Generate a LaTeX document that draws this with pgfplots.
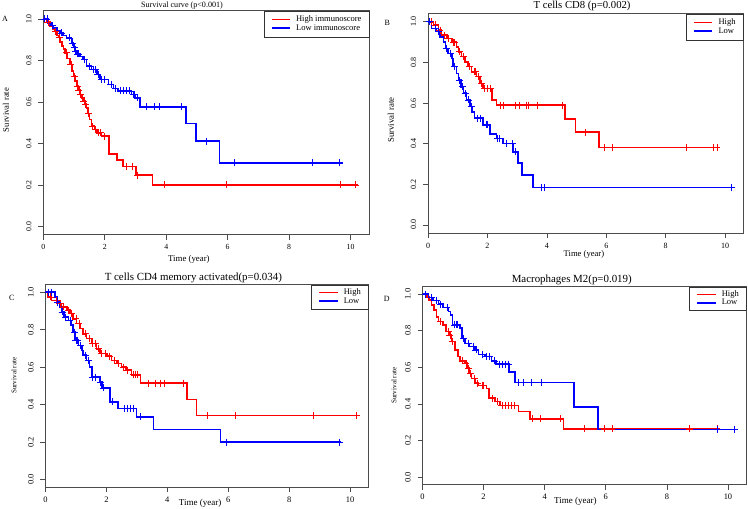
\documentclass[border=0pt]{standalone}
\usepackage{pgfplots}
\pgfplotsset{compat=1.18}
\usepackage{fontspec}
\setmainfont{Liberation Serif}
\definecolor{kmred}{RGB}{255,0,0}
\definecolor{kmblue}{RGB}{0,0,255}
\pgfplotsset{legend image code/.code={\draw[#1] (0pt,0pt) -- (18.5pt,0pt);}}
\pgfplotsset{
  kmaxis/.style={
    scale only axis, xmin=0, xmax=10.6, ymin=-0.04, ymax=1.04,
    axis line style={black!70, line width=0.6pt},
    every tick/.style={black!70, line width=0.6pt},
    tick align=outside, major tick length=5pt, tick pos=left,
    xtick={0,2,4,6,8,10}, ytick={0,0.2,0.4,0.6,0.8,1},
    /pgf/number format/assume math mode=true,
    yticklabel style={rotate=90, anchor=south, inner sep=0pt,
      /pgf/number format/fixed, /pgf/number format/fixed zerofill, /pgf/number format/precision=1},
    xticklabel style={anchor=north, inner sep=0pt},
    xticklabel shift=4.5pt, yticklabel shift=6.5pt,
    legend cell align=left,
    legend style={at={(1,1)}, anchor=north east, draw=black!80, fill=white,
      font=\fontsize{8.5}{8.5}\selectfont, inner xsep=7pt, inner ysep=4.5pt,
      nodes={inner sep=0.3pt, text height=5.9pt, text depth=2.1pt}, column sep=5pt, row sep=0pt},
  },
}
\begin{document}
\begin{tikzpicture}
\useasboundingbox (0pt,0pt) rectangle (748pt,509pt);
% ---------------- Panel A ----------------
\begin{axis}[kmaxis, at={(43.3pt,274.2pt)}, anchor=south west, width=325.7pt, height=224.1pt,
  xticklabel style={font=\fontsize{7.8}{8}\selectfont},
  yticklabel style={font=\fontsize{7.8}{8}\selectfont},
  title={Survival curve (p<0.001)},
  every axis title/.style={at={(0.426,1)}, anchor=base, yshift=3.2pt, font=\fontsize{8.1}{9}\selectfont},
  xlabel={Time (year)},
  every axis x label/.style={at={(0.447,0)}, anchor=base, yshift=-26.7pt, font=\fontsize{8.8}{9}\selectfont},
  ylabel={Survival rate},
  every axis y label/.style={at={(-0.1145,0.557)}, anchor=center, rotate=90, font=\fontsize{8.6}{9}\selectfont},
]
\addlegendimage{kmred, line width=1.6pt}
\addlegendentry{High immunoscore}
\addlegendimage{kmblue, line width=1.6pt}
\addlegendentry{Low immunoscore}
\addplot[forget plot, kmred, line width=1.6pt, const plot, mark=none] coordinates {(0,1.0) (0.1,0.985) (0.22,0.965) (0.3,0.95) (0.38,0.94) (0.45,0.92) (0.49,0.91) (0.55,0.89) (0.60,0.87) (0.66,0.855) (0.71,0.837) (0.78,0.81) (0.87,0.78) (0.93,0.75) (0.98,0.725) (1.04,0.70) (1.09,0.677) (1.14,0.657) (1.19,0.637) (1.25,0.62) (1.30,0.605) (1.36,0.59) (1.41,0.572) (1.46,0.545) (1.50,0.516) (1.57,0.484) (1.66,0.468) (1.74,0.452) (1.90,0.436) (2.14,0.348) (2.39,0.32) (2.60,0.29) (3.02,0.248) (3.55,0.20) (10.25,0.20)};
\addplot[forget plot, kmblue, line width=1.6pt, const plot, mark=none] coordinates {(0,1.0) (0.16,0.98) (0.25,0.968) (0.33,0.957) (0.45,0.945) (0.54,0.933) (0.65,0.921) (0.76,0.909) (0.92,0.885) (0.98,0.865) (1.03,0.845) (1.10,0.832) (1.19,0.82) (1.30,0.805) (1.41,0.773) (1.57,0.757) (1.74,0.733) (1.85,0.709) (2.12,0.685) (2.28,0.665) (2.44,0.653) (2.87,0.637) (2.98,0.62) (3.15,0.577) (4.65,0.497) (4.97,0.412) (5.74,0.307) (9.76,0.307)};
\addplot[forget plot, kmred, only marks, mark=+, mark size=3.5pt, mark options={kmred, line width=0.7pt}] coordinates {(0.15,0.985) (0.40,0.94) (0.52,0.91) (0.75,0.837) (0.90,0.78) (1.0,0.725) (1.1,0.677) (1.16,0.657) (1.22,0.637) (1.32,0.605) (1.38,0.59) (1.48,0.545) (1.6,0.484) (1.7,0.468) (1.8,0.452) (1.85,0.452) (2.0,0.436) (2.7,0.29) (2.9,0.29) (3.05,0.248) (3.94,0.2) (5.97,0.2) (9.67,0.2) (10.17,0.2)};
\addplot[forget plot, kmblue, only marks, mark=+, mark size=3.5pt, mark options={kmblue, line width=0.7pt}] coordinates {(0.05,1.0) (0.12,1.0) (0.3,0.968) (0.6,0.933) (0.85,0.909) (0.95,0.885) (1.0,0.865) (1.05,0.845) (1.12,0.832) (1.15,0.832) (1.35,0.805) (1.5,0.773) (1.62,0.757) (1.7,0.757) (1.78,0.733) (1.9,0.709) (2.0,0.709) (2.2,0.685) (2.35,0.665) (2.5,0.653) (2.6,0.653) (2.7,0.653) (2.8,0.653) (2.92,0.637) (2.95,0.637) (3.05,0.62) (3.36,0.577) (3.63,0.577) (3.77,0.577) (4.50,0.577) (5.31,0.412) (6.21,0.307) (8.76,0.307) (9.63,0.307)};
\end{axis}
% ---------------- Panel B ----------------
\begin{axis}[kmaxis, at={(428pt,275.9pt)}, anchor=south west, width=315pt, height=219.5pt,
  xticklabel style={font=\fontsize{8}{8}\selectfont},
  yticklabel style={font=\fontsize{8}{8}\selectfont},
  title={T cells CD8 (p=0.002)},
  every axis title/.style={at={(0.489,1)}, anchor=base, yshift=4.6pt, font=\fontsize{10.7}{11}\selectfont},
  xlabel={Time (year)},
  every axis x label/.style={at={(0.495,0)}, anchor=base, yshift=-23.4pt, font=\fontsize{8.6}{9}\selectfont},
  ylabel={Survival rate},
  every axis y label/.style={at={(-0.118,0.515)}, anchor=center, rotate=90, font=\fontsize{8.8}{9}\selectfont},
]
\addlegendimage{kmred, line width=1.6pt}
\addlegendentry{High}
\addlegendimage{kmblue, line width=1.6pt}
\addlegendentry{Low}
\addplot[forget plot, kmred, line width=1.6pt, const plot, mark=none] coordinates {(0,1.0) (0.18,0.984) (0.35,0.959) (0.46,0.934) (0.63,0.918) (0.80,0.90) (0.96,0.877) (1.02,0.852) (1.13,0.828) (1.24,0.803) (1.35,0.779) (1.47,0.754) (1.63,0.73) (1.75,0.697) (1.86,0.672) (2.16,0.615) (2.31,0.59) (4.60,0.521) (4.96,0.456) (5.75,0.381) (9.75,0.381)};
\addplot[forget plot, kmblue, line width=1.6pt, const plot, mark=none] coordinates {(0,1.0) (0.12,0.967) (0.29,0.951) (0.40,0.926) (0.52,0.90) (0.59,0.869) (0.68,0.844) (0.80,0.82) (0.85,0.779) (0.96,0.746) (1.02,0.713) (1.11,0.68) (1.19,0.648) (1.30,0.615) (1.41,0.582) (1.49,0.557) (1.56,0.525) (1.86,0.492) (2.08,0.448) (2.31,0.426) (2.53,0.40) (2.87,0.36) (3.03,0.306) (3.17,0.246) (3.54,0.184) (10.2,0.184)};
\addplot[forget plot, kmred, only marks, mark=+, mark size=3.5pt, mark options={kmred, line width=0.7pt}] coordinates {(0.1,1.0) (0.25,0.984) (0.4,0.959) (0.55,0.934) (0.7,0.918) (0.85,0.90) (0.9,0.90) (1.05,0.852) (1.2,0.828) (1.4,0.779) (1.55,0.754) (1.6,0.754) (1.7,0.73) (1.8,0.697) (1.9,0.672) (2.0,0.672) (2.1,0.672) (2.44,0.59) (2.55,0.59) (2.95,0.59) (3.08,0.59) (3.31,0.59) (3.39,0.59) (3.67,0.59) (4.51,0.59) (5.30,0.456) (5.94,0.381) (6.19,0.381) (8.71,0.381) (9.61,0.381) (9.72,0.381)};
\addplot[forget plot, kmblue, only marks, mark=+, mark size=3.5pt, mark options={kmblue, line width=0.7pt}] coordinates {(0.05,1.0) (0.25,0.967) (0.35,0.951) (0.62,0.869) (0.75,0.844) (0.9,0.779) (1.05,0.713) (1.15,0.68) (1.25,0.648) (1.35,0.615) (1.45,0.582) (1.65,0.525) (1.75,0.525) (1.95,0.492) (2.0,0.492) (2.35,0.426) (2.4,0.426) (2.65,0.40) (2.85,0.40) (2.95,0.36) (3.82,0.184) (3.90,0.184) (10.2,0.184)};
\end{axis}
% ---------------- Panel C ----------------
\begin{axis}[kmaxis, at={(45.5pt,21.8pt)}, anchor=south west, width=322.8pt, height=202.4pt,
  xticklabel style={font=\fontsize{8.4}{8}\selectfont},
  yticklabel style={font=\fontsize{8.4}{8}\selectfont},
  legend style={inner ysep=3.4pt},
  title={T cells CD4 memory activated(p=0.034)},
  every axis title/.style={at={(0.458,1)}, anchor=base, yshift=3.8pt, font=\fontsize{10.9}{11}\selectfont},
  xlabel={Time (year)},
  every axis x label/.style={at={(0.479,0)}, anchor=base, yshift=-18.3pt, font=\fontsize{9}{9}\selectfont},
  ylabel={Survival rate},
  every axis y label/.style={at={(-0.0976,0.551)}, anchor=center, rotate=90, font=\fontsize{7.1}{8}\selectfont},
]
\addlegendimage{kmred, line width=1.6pt}
\addlegendentry{High}
\addlegendimage{kmblue, line width=1.6pt}
\addlegendentry{Low}
\addplot[forget plot, kmred, line width=1.6pt, const plot, mark=none] coordinates {(0,1.0) (0.09,0.975) (0.20,0.957) (0.37,0.94) (0.53,0.922) (0.70,0.904) (0.80,0.886) (0.91,0.859) (1.02,0.833) (1.13,0.806) (1.24,0.779) (1.35,0.753) (1.52,0.726) (1.68,0.699) (1.79,0.673) (2.01,0.66) (2.17,0.637) (2.34,0.619) (2.50,0.601) (2.64,0.584) (2.83,0.56) (3.12,0.516) (4.64,0.429) (4.96,0.343) (10.25,0.343)};
\addplot[forget plot, kmblue, line width=1.6pt, const plot, mark=none] coordinates {(0,1.0) (0.31,0.975) (0.37,0.948) (0.48,0.922) (0.53,0.895) (0.61,0.868) (0.75,0.85) (0.83,0.824) (0.91,0.788) (0.97,0.744) (1.08,0.717) (1.19,0.69) (1.24,0.664) (1.35,0.637) (1.44,0.601) (1.52,0.548) (1.78,0.52) (1.85,0.49) (2.12,0.415) (2.39,0.379) (2.99,0.335) (3.54,0.267) (5.75,0.2) (9.7,0.2)};
\addplot[forget plot, kmred, only marks, mark=+, mark size=3.5pt, mark options={kmred, line width=0.7pt}] coordinates {(0.15,0.975) (0.35,0.957) (0.5,0.94) (0.6,0.922) (0.75,0.904) (0.85,0.886) (1.0,0.859) (1.1,0.833) (1.3,0.779) (1.45,0.753) (1.55,0.726) (1.65,0.726) (1.75,0.699) (1.85,0.673) (1.95,0.673) (2.1,0.66) (2.25,0.637) (2.4,0.619) (2.55,0.601) (2.7,0.584) (2.9,0.56) (2.95,0.56) (3.0,0.56) (3.38,0.516) (3.60,0.516) (3.76,0.516) (3.89,0.516) (4.53,0.516) (5.31,0.343) (6.24,0.343) (8.8,0.343) (10.2,0.343)};
\addplot[forget plot, kmblue, only marks, mark=+, mark size=3.5pt, mark options={kmblue, line width=0.7pt}] coordinates {(0.1,1.0) (0.2,1.0) (0.4,0.948) (0.55,0.895) (0.65,0.868) (0.8,0.85) (0.95,0.788) (1.0,0.744) (1.05,0.744) (1.15,0.717) (1.3,0.664) (1.4,0.637) (1.55,0.548) (1.65,0.548) (1.8,0.52) (1.9,0.49) (2.2,0.415) (2.6,0.379) (2.7,0.379) (2.8,0.379) (2.9,0.379) (3.1,0.335) (5.95,0.2) (9.65,0.2)};
\end{axis}
% ---------------- Panel D ----------------
\begin{axis}[kmaxis, at={(422.5pt,24.4pt)}, anchor=south west, width=323.8pt, height=197.9pt,
  xticklabel style={font=\fontsize{8.4}{8}\selectfont},
  yticklabel style={font=\fontsize{8.4}{8}\selectfont},
  legend style={inner ysep=3.2pt},
  title={Macrophages M2(p=0.019)},
  every axis title/.style={at={(0.461,1)}, anchor=base, yshift=4.2pt, font=\fontsize{10.9}{11}\selectfont},
  xlabel={Time (year)},
  every axis x label/.style={at={(0.472,0)}, anchor=base, yshift=-18.9pt, font=\fontsize{9}{9}\selectfont},
  ylabel={Survival rate},
  every axis y label/.style={at={(-0.088,0.50)}, anchor=center, rotate=90, font=\fontsize{7.1}{8}\selectfont},
]
\addlegendimage{kmred, line width=1.6pt}
\addlegendentry{High}
\addlegendimage{kmblue, line width=1.6pt}
\addlegendentry{Low}
\addplot[forget plot, kmred, line width=1.6pt, const plot, mark=none] coordinates {(0,1.0) (0.14,0.985) (0.22,0.967) (0.30,0.94) (0.38,0.913) (0.46,0.876) (0.52,0.849) (0.68,0.831) (0.77,0.795) (0.88,0.776) (0.95,0.74) (1.06,0.695) (1.17,0.658) (1.23,0.635) (1.39,0.622) (1.45,0.595) (1.53,0.567) (1.61,0.54) (1.72,0.513) (1.83,0.50) (2.10,0.485) (2.18,0.431) (2.37,0.413) (2.54,0.391) (3.14,0.358) (3.52,0.318) (4.61,0.264) (9.75,0.264)};
\addplot[forget plot, kmblue, line width=1.6pt, const plot, mark=none] coordinates {(0,1.0) (0.19,0.982) (0.35,0.964) (0.52,0.945) (0.68,0.927) (0.85,0.904) (0.92,0.885) (0.98,0.831) (1.23,0.813) (1.30,0.758) (1.39,0.731) (1.53,0.713) (1.72,0.695) (1.83,0.671) (2.05,0.658) (2.26,0.635) (2.41,0.618) (2.84,0.573) (3.03,0.518) (4.96,0.385) (5.75,0.26) (10.2,0.26)};
\addplot[forget plot, kmred, only marks, mark=+, mark size=3.5pt, mark options={kmred, line width=0.7pt}] coordinates {(0.6,0.849) (0.85,0.795) (0.9,0.776) (0.97,0.74) (1.3,0.635) (1.42,0.622) (1.5,0.595) (1.58,0.567) (1.7,0.54) (1.8,0.513) (1.95,0.50) (2.0,0.50) (2.3,0.431) (2.45,0.413) (2.6,0.391) (2.7,0.391) (2.8,0.391) (2.9,0.391) (3.0,0.391) (3.6,0.318) (3.85,0.318) (4.5,0.318) (5.3,0.264) (5.95,0.264) (6.2,0.264) (8.75,0.264) (9.65,0.264)};
\addplot[forget plot, kmblue, only marks, mark=+, mark size=3.5pt, mark options={kmblue, line width=0.7pt}] coordinates {(0.1,1.0) (0.3,0.982) (0.45,0.964) (0.6,0.945) (0.8,0.927) (1.05,0.831) (1.1,0.831) (1.15,0.831) (1.35,0.758) (1.5,0.731) (1.65,0.713) (1.75,0.695) (1.95,0.671) (2.1,0.658) (2.2,0.658) (2.35,0.635) (2.5,0.618) (2.6,0.618) (2.7,0.618) (2.8,0.618) (3.15,0.518) (3.3,0.518) (3.55,0.518) (3.9,0.518) (9.65,0.26) (10.2,0.26)};
\end{axis}
% panel letters
\node[font=\fontsize{8}{9}\selectfont] at (5pt,490pt) {A};
\node[font=\fontsize{8}{9}\selectfont] at (387.3pt,485.7pt) {B};
\node[font=\fontsize{8}{9}\selectfont] at (11.7pt,210.7pt) {C};
\node[font=\fontsize{8}{9}\selectfont] at (386.7pt,210pt) {D};
\end{tikzpicture}
\end{document}
